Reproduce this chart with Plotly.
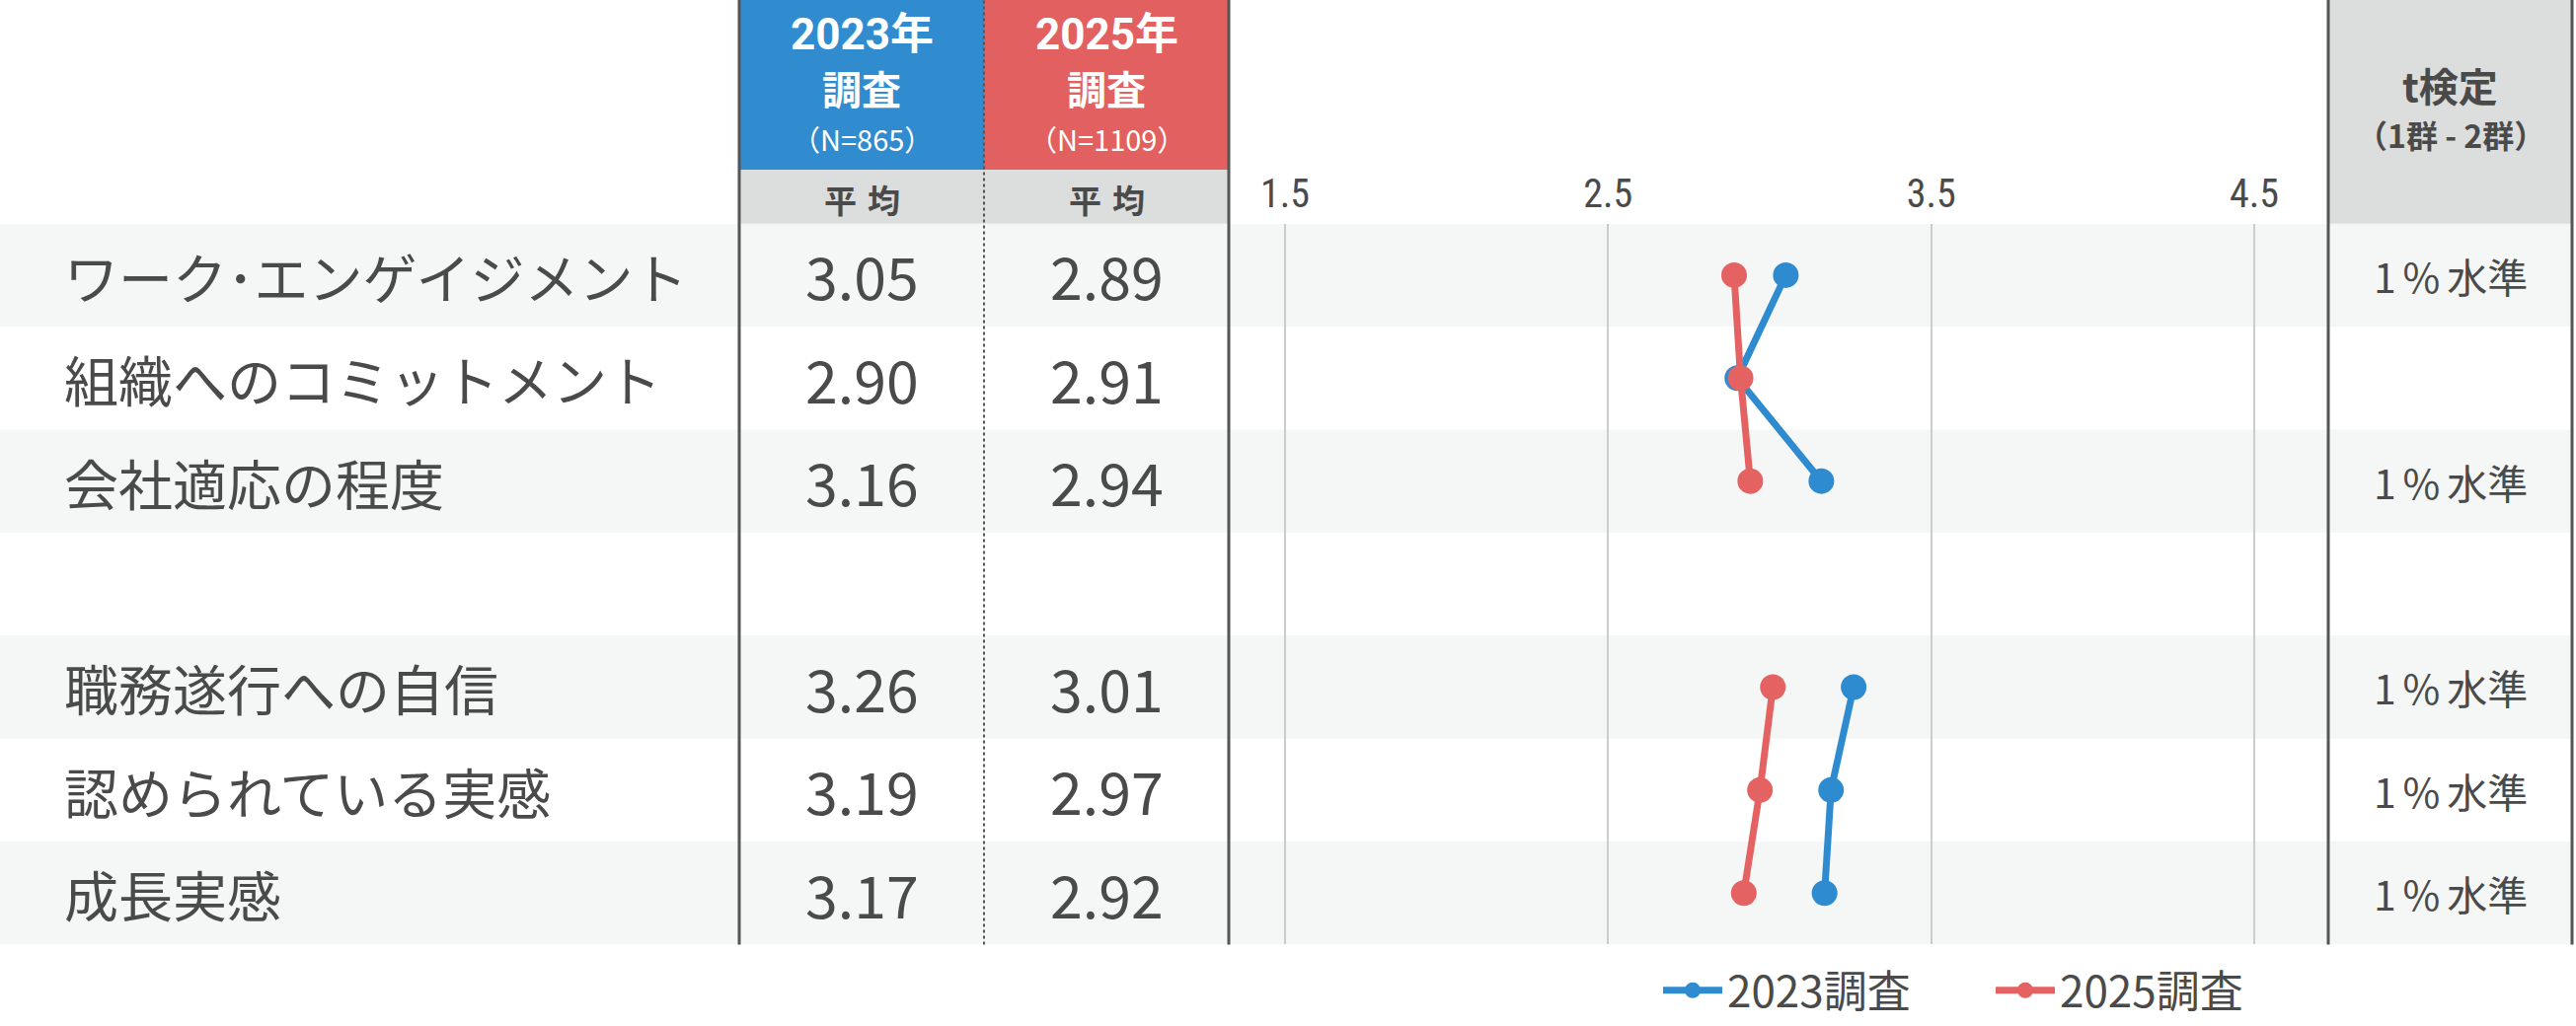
import plotly.graph_objects as go

W, H = 2610, 1040

# ---------------- data ----------------
categories = ["ワーク･エンゲイジメント", "組織へのコミットメント", "会社適応の程度", "",
              "職務遂行への自信", "認められている実感", "成長実感"]
survey_2023 = [3.05, 2.90, 3.16, None, 3.26, 3.19, 3.17]
survey_2025 = [2.89, 2.91, 2.94, None, 3.01, 2.97, 2.92]
ttest_result = ["1%水準", "", "1%水準", "", "1%水準", "1%水準", "1%水準"]
tick_vals = [1.5, 2.5, 3.5, 4.5]
tick_text = ["1.5", "2.5", "3.5", "4.5"]
series_names = ["2023調査", "2025調査"]
header_2023 = ["2023年", "調査", "（N=865）"]
header_2025 = ["2025年", "調査", "（N=1109）"]
header_ttest = ["t検定", "（1群 - 2群）"]
header_mean = "平\u2004均"

# ---------------- style ----------------
BLUE = "#2F8BD0"
RED = "#E46262"
HDR_BLUE = "#318BCF"
HDR_RED = "#E36060"
GRAY_HDR = "#DCDDDD"
STRIPE = "#F5F7F7"
TXT = "#4A4A4A"
BORDER = "#555555"
FONT = "Noto Sans CJK JP"
YEARFONT = "Roboto, Noto Sans CJK JP"


def px(x):
    return x / W


def py(y):
    return 1 - y / H


# geometry (pixels)
X_LEFT_COL = 749
X_MID = 997
X_RIGHT_COL = 1245
X_TTEST = 2359
X_END = 2606
Y_HDR = 173
Y_BODY_TOP = 228
Y_BODY_BOT = 963

n = len(categories)
rows = list(range(n))

fig = go.Figure()
fig.add_trace(go.Scatter(x=survey_2023, y=rows, mode="lines+markers", name=series_names[0],
                         line=dict(color=BLUE, width=7), marker=dict(color=BLUE, size=26),
                         connectgaps=False, hoverinfo="skip"))
fig.add_trace(go.Scatter(x=survey_2025, y=rows, mode="lines+markers", name=series_names[1],
                         line=dict(color=RED, width=7), marker=dict(color=RED, size=26),
                         connectgaps=False, hoverinfo="skip"))

shapes = []
# stripes
for i in rows:
    if i % 2 == 0:
        shapes.append(dict(type="rect", xref="paper", yref="y", x0=0, x1=px(X_END),
                           y0=i - 0.5, y1=i + 0.5, fillcolor=STRIPE, line=dict(width=0),
                           layer="below"))
# header blocks
shapes += [
    dict(type="rect", xref="paper", yref="paper", x0=px(X_LEFT_COL), x1=px(X_MID),
         y0=py(Y_HDR), y1=1, fillcolor=HDR_BLUE, line=dict(width=0), layer="below"),
    dict(type="rect", xref="paper", yref="paper", x0=px(X_MID), x1=px(X_RIGHT_COL),
         y0=py(Y_HDR), y1=1, fillcolor=HDR_RED, line=dict(width=0), layer="below"),
    dict(type="rect", xref="paper", yref="paper", x0=px(X_LEFT_COL), x1=px(X_RIGHT_COL),
         y0=py(Y_BODY_TOP), y1=py(Y_HDR), fillcolor=GRAY_HDR, line=dict(width=0), layer="below"),
    dict(type="rect", xref="paper", yref="paper", x0=px(X_TTEST), x1=px(X_END),
         y0=py(Y_BODY_TOP), y1=1, fillcolor=GRAY_HDR, line=dict(width=0), layer="below"),
]
# vertical borders
for xv in [X_LEFT_COL, X_RIGHT_COL, X_TTEST, X_END]:
    shapes.append(dict(type="line", xref="paper", yref="paper", x0=px(xv), x1=px(xv),
                       y0=py(Y_BODY_BOT), y1=1, line=dict(color=BORDER, width=3), layer="above"))
shapes.append(dict(type="line", xref="paper", yref="paper", x0=px(X_MID), x1=px(X_MID),
                   y0=py(Y_BODY_BOT), y1=1, line=dict(color=BORDER, width=2, dash="dot"),
                   layer="above"))

ann = []
# header texts
c23 = px((X_LEFT_COL + X_MID) / 2)
c25 = px((X_MID + X_RIGHT_COL) / 2)
ctt = px((X_TTEST + X_END) / 2)
for cx, hdr in [(c23, header_2023), (c25, header_2025)]:
    ann.append(dict(x=cx, y=py(35), text=f"<b>{hdr[0]}</b>",
                    font=dict(size=44, color="white", family=YEARFONT)))
    ann.append(dict(x=cx, y=py(90), text=f"<b>{hdr[1]}</b>",
                    font=dict(size=40, color="white", family=FONT)))
    ann.append(dict(x=cx, y=py(141), text=hdr[2], font=dict(size=29, color="white", family=FONT)))
    ann.append(dict(x=cx, y=py(203), text=f"<b>{header_mean}</b>", font=dict(size=33, color=TXT, family=FONT)))
ann.append(dict(x=ctt, y=py(87), text=f"<b>{header_ttest[0]}</b>", font=dict(size=40, color=TXT, family=FONT)))
ann.append(dict(x=ctt, y=py(137), text=f"<b>{header_ttest[1]}</b>", font=dict(size=32, color=TXT, family=FONT)))

for a in ann:
    a.update(xref="paper", yref="paper", xanchor="center", yanchor="middle", showarrow=False)

# body texts
for i, (cat, v23, v25, tt) in enumerate(zip(categories, survey_2023, survey_2025, ttest_result)):
    if cat:
        ann.append(dict(x=px(63), y=i, xref="paper", yref="y", text=cat, xanchor="left",
                        yanchor="middle", showarrow=False, font=dict(size=55, color=TXT, family=FONT)))
    if v23 is not None:
        ann.append(dict(x=c23, y=i, xref="paper", yref="y", text=f"{v23:.2f}", xanchor="center",
                        yanchor="middle", showarrow=False, font=dict(size=59, color=TXT, family=FONT)))
    if v25 is not None:
        ann.append(dict(x=c25, y=i, xref="paper", yref="y", text=f"{v25:.2f}", xanchor="center",
                        yanchor="middle", showarrow=False, font=dict(size=59, color=TXT, family=FONT)))
    if tt:
        ann.append(dict(x=ctt, y=i, xref="paper", yref="y", text=tt.replace("1%", "1\u2006%\u2006"),
                        xanchor="center", yanchor="middle", showarrow=False,
                        font=dict(size=41, color=TXT, family=FONT)))

fig.update_layout(
    width=W, height=H, autosize=False,
    margin=dict(l=0, r=0, t=0, b=0, pad=0),
    paper_bgcolor="white", plot_bgcolor="rgba(0,0,0,0)",
    shapes=shapes, annotations=ann,
    font=dict(family=FONT, color=TXT),
    xaxis=dict(domain=[px(X_RIGHT_COL), px(X_TTEST)], range=[1.326, 4.729], side="top",
               tickvals=tick_vals, ticktext=tick_text, showgrid=True, gridcolor="#CCCCCC",
               gridwidth=2, zeroline=False, showline=False, ticks="", fixedrange=True,
               ticklabelstandoff=8,
               tickfont=dict(size=40, color=TXT, family="Liberation Sans Narrow, Roboto Condensed, Roboto")),
    yaxis=dict(domain=[py(Y_BODY_BOT), py(Y_BODY_TOP)], range=[n - 0.5, -0.5], showgrid=False,
               zeroline=False, showticklabels=False, showline=False, fixedrange=True),
    showlegend=True,
    legend=dict(orientation="h", x=px(1680), y=py(1010), xanchor="left", yanchor="middle",
                font=dict(size=44, color=TXT, family=FONT), bgcolor="rgba(0,0,0,0)",
                itemwidth=60, entrywidth=262, entrywidthmode="pixels", traceorder="normal"),
)

fig.write_html("out.html", config={"displayModeBar": False},
               post_script="document.body.style.margin='0';")
